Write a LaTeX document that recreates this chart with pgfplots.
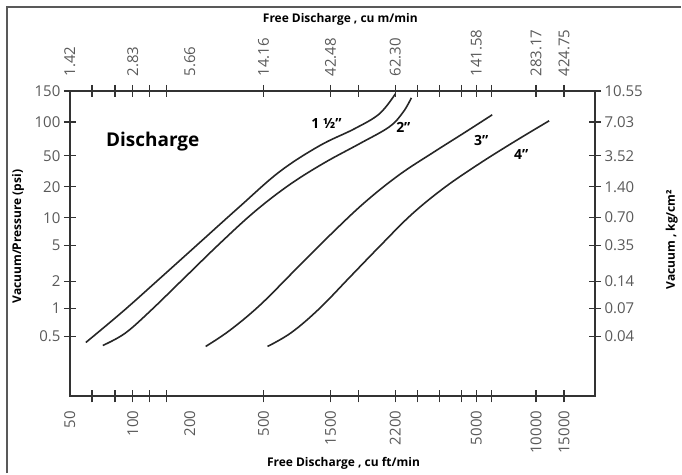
\documentclass[border=0pt]{standalone}
\usepackage{fontspec}
\setmainfont{Open Sans}
\usepackage{pgfplots}
\pgfplotsset{compat=1.18}

% the chart is a schematic nomograph: positions are read off the picture
% (x to the right, y upwards, 1 unit = 1 px of the 682x474 original)
\pgfplotsset{
  chartbase/.style={
    width=526pt, height=306pt, scale only axis,
    xmin=70, xmax=596, ymin=77, ymax=383,
    axis lines=box, clip=false,
    axis line style={line width=1.8pt, black!80},
    tick style={line width=1.4pt, black!80},
    major tick length=12pt, tick align=center,
    tick label style={font=\fontsize{15}{15}\selectfont, text=black!65},
    /pgf/number format/assume math mode=true,
    xtick={92,115,133,150,167,264,331,359,396,418,440,462,477,492,537,565},
    xticklabels={}, xticklabel shift=11pt,
    ytick={137,165,192,228,256,287,318,352,383},
    every axis x label/.style={anchor=center, font=\bfseries\fontsize{12}{12}\selectfont},
    every axis y label/.style={anchor=center, rotate=90, font=\bfseries\fontsize{12}{12}\selectfont},
  },
  curve/.style={line width=1.6pt, black!85, smooth, tension=0.6, no marks},
}
\tikzset{sizelabel/.style={font=\bfseries\fontsize{14}{14}\selectfont}}

\begin{document}
\begin{tikzpicture}
% bottom / left scales (cu ft/min, psi)
\begin{axis}[chartbase,
    xtick pos=bottom, ytick pos=left,
    extra x ticks={70,133,190,264,331,396,477,537,565},
    extra x tick labels={50,100,200,500,1500,2200,5000,10000,15000},
    extra x tick style={major tick length=0pt, tick label style={rotate=90, anchor=east}},
    yticklabels={0.5,1,2,5,10,20,50,100,150},
    xlabel={Free Discharge , cu ft/min},
    x label style={at={(axis description cs:0.521,-0.219)}},
    ylabel={Vacuum/Pressure (psi)},
    y label style={at={(axis description cs:-0.099,0.523)}},
]
% 1 1/2 inch
\addplot[curve] coordinates {
(86,131) (123,162) (160,195) (200,231) (240,267) (280,302)
(320,328) (355,345) (380,360) (396,380)
};
% 2 inch
\addplot[curve] coordinates {
(103,128) (125,140) (150,162) (185,196) (220,230) (255,262)
(290,289) (325,311) (360,330) (390,347) (404,362) (412,376)
};
% 3 inch
\addplot[curve] coordinates {
(206,127) (230,143) (260,168) (295,203) (330,238) (365,271)
(400,299) (435,322) (465,341) (493,359)
};
% 4 inch
\addplot[curve] coordinates {
(268,127) (292,141) (320,165) (350,196) (380,227) (412,259)
(445,286) (480,310) (515,332) (550,353)
};
\node[font=\bfseries\fontsize{19}{19}\selectfont] at (axis cs:153,332) {Discharge};
\node[sizelabel] at (axis cs:327,350) {1 ½''};
\node[sizelabel] at (axis cs:404,346) {2''};
\node[sizelabel] at (axis cs:482,333) {3''};
\node[sizelabel] at (axis cs:522,319) {4''};
% outer frame of the figure
\draw[line width=2.2pt, black!65] (axis cs:7,0) -- (axis cs:7,467) -- (axis cs:682,467);
\path (axis cs:0,0) rectangle (axis cs:682,474);
\end{axis}
% top / right scales (cu m/min, kg/cm2)
\begin{axis}[chartbase,
    xtick pos=top, xticklabel pos=top, ytick pos=right, yticklabel pos=right,
    extra x ticks={70,133,190,264,331,396,477,537,565},
    extra x tick labels={1.42,2.83,5.66,14.16,42.48,62.30,141.58,283.17,424.75},
    extra x tick style={major tick length=0pt, tick label style={rotate=90, anchor=west}},
    yticklabels={0.04,0.07,0.14,0.35,0.70,1.40,3.52,7.03,10.55},
    xlabel={Free Discharge , cu m/min},
    x label style={at={(axis description cs:0.515,1.235)}},
    ylabel={Vacuum , kg/cm²},
    y label style={at={(axis description cs:1.146,0.513)}},
]
\end{axis}
\end{tikzpicture}
\end{document}
